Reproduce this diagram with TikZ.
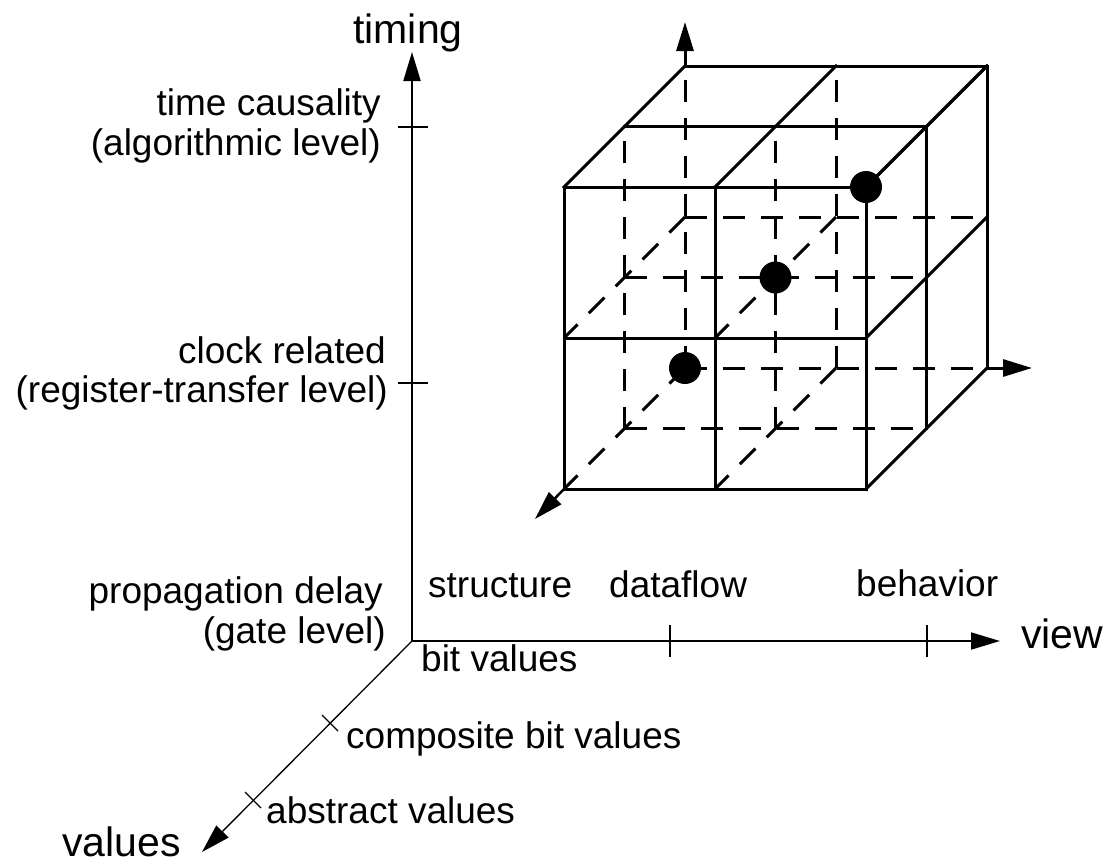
\documentclass[tikz,border=0pt]{standalone}
\usepackage{fontspec}
\setmainfont{Liberation Sans}
\usetikzlibrary{arrows.meta}
\begin{document}
\begin{tikzpicture}[x=1pt,y=-1pt,
  lbl/.style={inner sep=0pt, font=\fontsize{37}{44}\selectfont},
  axlbl/.style={inner sep=0pt, font=\fontsize{41}{48}\selectfont},
  cubeline/.style={line width=3pt, line cap=rect},
  hid/.style={line width=3pt, dash pattern=on 22pt off 16pt},
  axisline/.style={line width=2pt},
  tipped/.style={-{Triangle[length=29pt,width=17pt]}},
  tickmark/.style={line width=1.5pt},
  thintick/.style={line width=1.2pt},
  dot/.style={circle, fill=black, minimum size=32pt, inner sep=0pt}
]
\useasboundingbox (0,0) rectangle (1113,863);

% cube grid points
\foreach \i in {0,1,2}{
  \foreach \j in {0,1,2}{
    \foreach \k in {0,1,2}{
      \coordinate (p\i\j\k) at ({564+151*\i+60.5*\k},{489-151*\j-60.5*\k});
    }
  }
}

% hidden (dashed) lines
\foreach \k in {1,2}{
  \foreach \j in {0,1}{
    \draw[hid] (p0\j\k) -- (p2\j\k);
  }
  \foreach \i in {0,1}{
    \draw[hid] (p\i0\k) -- (p\i2\k);
  }
}
\foreach \i in {0,1}{
  \foreach \j in {0,1}{
    \draw[hid] (p\i\j2) -- (p\i\j0);
  }
}

% visible (solid) lines
\foreach \n in {0,1,2}{
  \draw[cubeline] (p\n00) -- (p\n20);
  \draw[cubeline] (p0\n0) -- (p2\n0);
  \draw[cubeline] (p02\n) -- (p22\n);
  \draw[cubeline] (p\n20) -- (p\n22);
  \draw[cubeline] (p20\n) -- (p22\n);
  \draw[cubeline] (p2\n0) -- (p2\n2);
}

% cube local axes
\coordinate (cubeup) at (685,22);
\coordinate (cuberight) at (1032,368);
\coordinate (cubedl) at (535,519);
\draw[cubeline, line cap=butt, tipped] (p022) -- (cubeup);
\draw[cubeline, line cap=butt, tipped] (p202) -- (cuberight);
\draw[line width=2.5pt, tipped] (p000) -- (cubedl);

% dots
\node[dot] (d1) at (p002) {};
\node[dot] (d2) at (p111) {};
\node[dot] (d3) at (p220) {};

% main axes
\coordinate (O) at (412,641);
\coordinate (tT) at (412,52);
\coordinate (tV) at (1000,641);
\coordinate (tW) at (202,852);
\draw[axisline, tipped] (O) -- (tT);
\draw[axisline, tipped] (O) -- (tV);
\draw[line width=1.3pt, tipped] (O) -- (tW);

% ticks
\draw[tickmark] (398,127) -- (428,127);
\draw[tickmark] (398,383) -- (428,383);
\draw[tickmark] (670,625) -- (670,657);
\draw[tickmark] (927,625) -- (927,657);
\draw[thintick] (322,715) -- (338,731);
\draw[thintick] (245,792) -- (261,808);

% labels
\node[axlbl, anchor=base] (ltiming) at (408,43) {timing};
\node[axlbl, anchor=base west] (lview) at (1021,648) {view};
\node[axlbl, anchor=base west] (lvalues) at (62,856) {values};

\node[lbl, anchor=base east] (ltc) at (381,115) {time causality};
\node[lbl, anchor=base east] (lal) at (381,155) {(algorithmic level)};
\node[lbl, anchor=base east] (lcr) at (386,363) {clock related};
\node[lbl, anchor=base east] (lrt) at (388,402) {(register-transfer level)};
\node[lbl, anchor=base east] (lpd) at (383,603) {propagation delay};
\node[lbl, anchor=base east] (lgl) at (386,643) {(gate level)};

\node[lbl, anchor=base west] (lst) at (428,597) {structure};
\node[lbl, anchor=base west] (ldf) at (609,597) {dataflow};
\node[lbl, anchor=base west] (lbh) at (856,596) {behavior};

\node[lbl, anchor=base west] (lbv) at (421,671) {bit values};
\node[lbl, anchor=base west] (lcb) at (346,748) {composite bit values};
\node[lbl, anchor=base west] (lav) at (266,823) {abstract values};
\end{tikzpicture}
\end{document}
